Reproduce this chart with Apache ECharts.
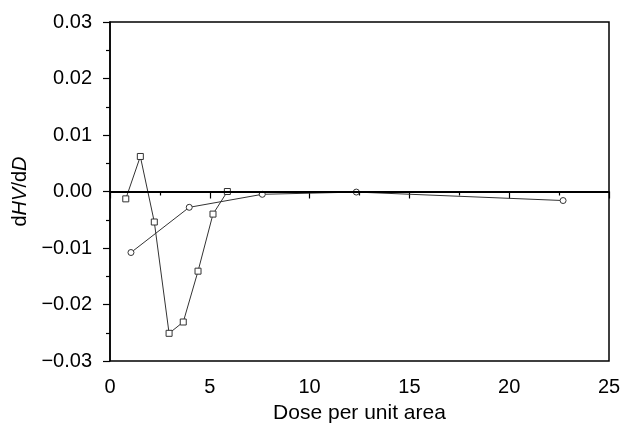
<!DOCTYPE html>
<html>
<head>
<meta charset="utf-8">
<script src="https://cdn.jsdelivr.net/npm/echarts@6/dist/echarts.min.js"></script>
<style>
  html, body { margin:0; padding:0; background:#fff; }
  #chart { width:634px; height:424px; }
</style>
</head>
<body>
<div id="chart"></div>
<script>
// squares series (dose, dHV/dD)
const squareX = [0.79, 1.52, 2.22, 2.96, 3.67, 4.41, 5.16, 5.88];
const squareY = [-0.0013, 0.0062, -0.0054, -0.0251, -0.0231, -0.0141, -0.0040, 0.0000];
// circles series
const circleX = [1.05, 3.97, 7.63, 12.34, 22.7];
const circleY = [-0.0108, -0.0028, -0.0005, -0.0001, -0.0016];

const xTicks = [0, 5, 10, 15, 20, 25];
const yTicks = [-0.03, -0.02, -0.01, 0, 0.01, 0.02, 0.03];

const font = 'Liberation Sans, Arial, sans-serif';
const lineColor = '#333';

const myChart = echarts.init(document.getElementById('chart'));

let pairs = (xs, ys) => xs.map((x, i) => [x, ys[i]]);

let option = {
    animation: false,
    grid: {
        left: 110, right: 25, top: 22, bottom: 63,
        outerBoundsMode: 'none',
        containLabel: false,
        show: true, borderColor: '#000', borderWidth: 1.5
    },
    xAxis: {
        type: 'value',
        min: xTicks[0], max: xTicks[xTicks.length - 1], interval: 5,
        name: 'Dose per unit area',
        nameLocation: 'middle',
        nameGap: 42,
        nameTextStyle: { color: '#000', fontSize: 21, fontFamily: font },
        axisLine: { lineStyle: { color: '#000', width: 1.5 } },
        axisTick: { length: 7, lineStyle: { color: '#000', width: 1.2 } },
        minorTick: { show: true, splitNumber: 2, length: 4, lineStyle: { color: '#000', width: 1.2 } },
        axisLabel: { color: '#000', fontSize: 20, fontFamily: font, margin: 16 },
        splitLine: { show: false }
    },
    yAxis: {
        type: 'value',
        min: yTicks[0], max: yTicks[yTicks.length - 1], interval: 0.01,
        name: '{n|d}{i|HV}{n|/d}{i|D}',
        nameLocation: 'middle',
        nameRotate: 90,
        nameGap: 77,
        nameTextStyle: {
            rich: {
                n: { color: '#000', fontSize: 20, fontFamily: font },
                i: { color: '#000', fontSize: 20, fontFamily: font, fontStyle: 'italic' }
            }
        },
        axisLine: { lineStyle: { color: '#000', width: 1.5 } },
        axisTick: { length: 7, lineStyle: { color: '#000', width: 1.2 } },
        minorTick: { show: true, splitNumber: 2, length: 4, lineStyle: { color: '#000', width: 1.2 } },
        axisLabel: {
            color: '#000', fontSize: 20, fontFamily: font, margin: 18,
            formatter: v => (v < 0 ? '\u2212' : '') + Math.abs(v).toFixed(2)
        },
        splitLine: { show: false }
    },
    series: [
        {
            type: 'line',
            data: pairs(squareX, squareY),
            symbol: 'rect',
            symbolSize: 6,
            itemStyle: { color: '#fff', borderColor: lineColor, borderWidth: 1 },
            lineStyle: { color: lineColor, width: 1 },
            markLine: {
                silent: true,
                symbol: 'none',
                label: { show: false },
                lineStyle: { color: '#000', width: 2, type: 'solid' },
                data: [{ yAxis: 0 }]
            },
            z: 3
        },
        {
            type: 'line',
            data: pairs(circleX, circleY),
            symbol: 'circle',
            symbolSize: 6,
            itemStyle: { color: '#fff', borderColor: lineColor, borderWidth: 1 },
            lineStyle: { color: lineColor, width: 1 },
            z: 3
        }
    ]
};
myChart.setOption(option);
</script>
</body>
</html>
